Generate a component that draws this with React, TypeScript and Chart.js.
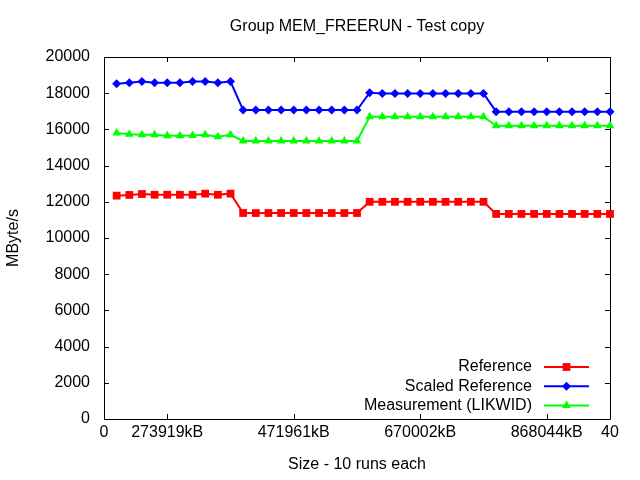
import React, { useEffect, useRef } from "react";
import { Chart, registerables } from "chart.js";

Chart.register(...registerables);

const chartTitle = "Group MEM_FREERUN - Test copy";
const xAxisTitle = "Size - 10 runs each";
const yAxisTitle = "MByte/s";

const runIndex = [
  1, 2, 3, 4, 5, 6, 7, 8, 9, 10,
  11, 12, 13, 14, 15, 16, 17, 18, 19, 20,
  21, 22, 23, 24, 25, 26, 27, 28, 29, 30,
  31, 32, 33, 34, 35, 36, 37, 38, 39, 40,
];

const xTickValues = [0, 5, 15, 25, 35, 40];
const xTickLabels = ["0", "273919kB", "471961kB", "670002kB", "868044kB", "40"];

const referenceValues = [
  12340, 12380, 12430, 12390, 12390, 12390, 12390, 12450, 12390, 12450,
  11380, 11380, 11380, 11380, 11380, 11380, 11380, 11380, 11380, 11380,
  12000, 12000, 12000, 12000, 12000, 12000, 12000, 12000, 12000, 12000,
  11330, 11330, 11330, 11330, 11330, 11330, 11330, 11330, 11330, 11330,
];

const scaledReferenceValues = [
  18520, 18580, 18640, 18580, 18580, 18580, 18640, 18640, 18580, 18640,
  17070, 17070, 17070, 17070, 17070, 17070, 17070, 17070, 17070, 17070,
  18030, 17990, 17990, 17990, 17990, 17990, 17990, 17990, 17990, 17990,
  16980, 16980, 16980, 16980, 16980, 16980, 16980, 16980, 16980, 16980,
];

const measurementValues = [
  15800, 15730, 15700, 15700, 15650, 15650, 15660, 15700, 15600, 15700,
  15360, 15360, 15360, 15360, 15360, 15360, 15360, 15360, 15360, 15360,
  16700, 16700, 16700, 16700, 16700, 16700, 16700, 16700, 16700, 16700,
  16200, 16200, 16200, 16200, 16200, 16200, 16200, 16200, 16200, 16200,
];

const seriesNames = ["Reference", "Scaled Reference", "Measurement (LIKWID)"];
const seriesColors = ["#ff0000", "#0000ff", "#00ff00"];
const seriesMarkers = ["rect", "rectRot", "triangle"];
const seriesRadii = [5.5, 4.5, 5];

const FONT = "16px 'Liberation Sans', Arial, sans-serif";

function drawMarker(ctx: CanvasRenderingContext2D, kind: string, x: number, y: number, r: number) {
  ctx.beginPath();
  if (kind === "rect") {
    const s = Math.SQRT1_2 * r;
    ctx.rect(x - s, y - s, 2 * s, 2 * s);
  } else if (kind === "rectRot") {
    ctx.moveTo(x, y - r);
    ctx.lineTo(x + r, y);
    ctx.lineTo(x, y + r);
    ctx.lineTo(x - r, y);
    ctx.closePath();
  } else {
    const h = r * Math.sin(Math.PI / 3);
    ctx.moveTo(x, y - r);
    ctx.lineTo(x + h, y + r / 2);
    ctx.lineTo(x - h, y + r / 2);
    ctx.closePath();
  }
  ctx.fill();
}

const framePlugin = {
  id: "gnuplotFrame",
  beforeDatasetsDraw(chart: any) {
    const { ctx, chartArea } = chart;
    const { left, right, top, bottom } = chartArea;
    const xs = chart.scales.x;
    const ys = chart.scales.y;
    ctx.save();
    ctx.strokeStyle = "#000";
    ctx.lineWidth = 1;
    ctx.beginPath();
    ctx.rect(Math.round(left) + 0.5, Math.round(top) + 0.5, Math.round(right - left), Math.round(bottom - top));
    ctx.stroke();
    const tl = 5;
    ctx.beginPath();
    ys.ticks.forEach((t: any) => {
      const py = Math.round(ys.getPixelForValue(t.value)) + 0.5;
      ctx.moveTo(left, py);
      ctx.lineTo(left + tl, py);
      ctx.moveTo(right, py);
      ctx.lineTo(right - tl, py);
    });
    xs.ticks.forEach((t: any) => {
      const px = Math.round(xs.getPixelForValue(t.value)) + 0.5;
      ctx.moveTo(px, bottom);
      ctx.lineTo(px, bottom - tl);
      ctx.moveTo(px, top);
      ctx.lineTo(px, top + tl);
    });
    ctx.stroke();
    ctx.restore();
  },
  afterDraw(chart: any) {
    const { ctx, chartArea } = chart;
    const cx = (chartArea.left + chartArea.right) / 2;
    const cy = (chartArea.top + chartArea.bottom) / 2;
    ctx.save();
    ctx.fillStyle = "#000";
    ctx.font = FONT;
    ctx.textAlign = "center";
    ctx.textBaseline = "middle";
    ctx.fillText(chartTitle, cx, 27);
    ctx.fillText(xAxisTitle, cx, 465);
    ctx.save();
    ctx.translate(14, cy);
    ctx.rotate(-Math.PI / 2);
    ctx.fillText(yAxisTitle, 0, 0);
    ctx.restore();

    // legend
    chart.data.datasets.forEach((ds: any, i: number) => {
      const ly = 367 + 19.2 * i;
      ctx.fillStyle = "#000";
      ctx.textAlign = "right";
      ctx.fillText(ds.label, 532, ly);
      ctx.strokeStyle = ds.borderColor;
      ctx.lineWidth = 2;
      ctx.beginPath();
      ctx.moveTo(544, ly);
      ctx.lineTo(589, ly);
      ctx.stroke();
      ctx.fillStyle = ds.borderColor;
      drawMarker(ctx, ds.pointStyle, 566.5, ly, ds.pointRadius);
    });
    ctx.restore();
  },
};

export default function App() {
  const canvasRef = useRef<HTMLCanvasElement | null>(null);

  useEffect(() => {
    const canvas = canvasRef.current;
    if (!canvas) return;
    const allValues = [referenceValues, scaledReferenceValues, measurementValues];
    const chart = new Chart(canvas, {
      type: "line",
      data: {
        datasets: allValues.map((vals, i) => ({
          label: seriesNames[i],
          data: runIndex.map((x, j) => ({ x, y: vals[j] })),
          borderColor: seriesColors[i],
          backgroundColor: seriesColors[i],
          borderWidth: 2,
          pointStyle: seriesMarkers[i] as any,
          pointRadius: seriesRadii[i],
          pointBorderWidth: 0,
          pointBackgroundColor: seriesColors[i],
          tension: 0,
          fill: false,
          clip: false as any,
        })),
      },
      options: {
        animation: false,
        responsive: false,
        devicePixelRatio: 1,
        layout: { padding: { top: 57, right: 30, left: 0, bottom: 0 } },
        plugins: {
          legend: { display: false },
          title: { display: false },
          tooltip: { enabled: false },
        },
        scales: {
          x: {
            type: "linear",
            min: 0,
            max: 40,
            grid: { display: false, drawTicks: false },
            border: { display: false },
            afterBuildTicks: (scale: any) => {
              scale.ticks = xTickValues.map((v) => ({ value: v }));
            },
            afterFit: (scale: any) => {
              scale.height = 61;
            },
            ticks: {
              autoSkip: false,
              maxRotation: 0,
              padding: 4,
              color: "#000",
              font: { family: "'Liberation Sans', Arial, sans-serif", size: 16 },
              callback: (value: any) => {
                const idx = xTickValues.indexOf(Number(value));
                return idx >= 0 ? xTickLabels[idx] : "";
              },
            },
          },
          y: {
            type: "linear",
            min: 0,
            max: 20000,
            grid: { display: false, drawTicks: false },
            border: { display: false },
            afterFit: (scale: any) => {
              scale.width = 104;
            },
            ticks: {
              stepSize: 2000,
              padding: 14,
              color: "#000",
              font: { family: "'Liberation Sans', Arial, sans-serif", size: 16 },
              callback: (value: any) => String(value),
            },
          },
        },
      },
      plugins: [framePlugin],
    });
    return () => chart.destroy();
  }, []);

  return (
    <div style={{ position: "fixed", left: 0, top: 0, width: 640, height: 480, background: "#fff" }}>
      <canvas ref={canvasRef} width={640} height={480} style={{ width: 640, height: 480 }} />
    </div>
  );
}
